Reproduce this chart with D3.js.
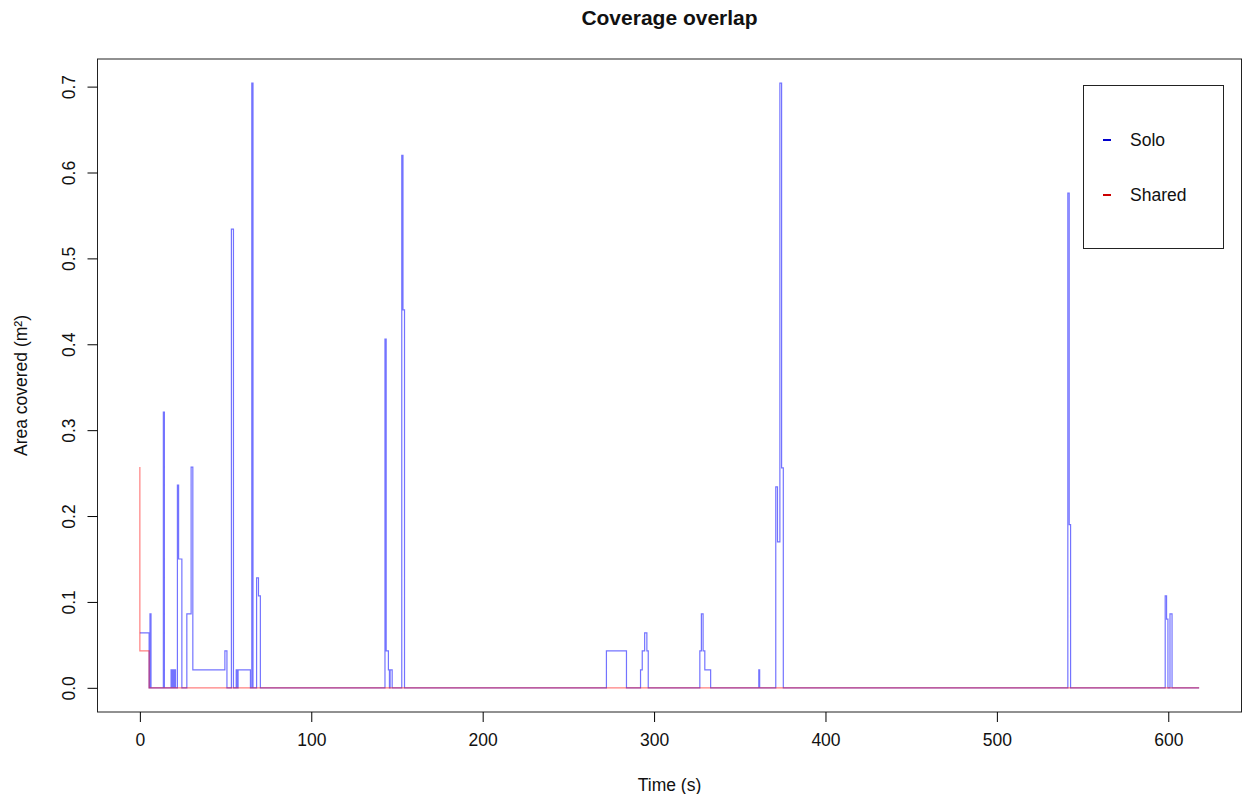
<!DOCTYPE html>
<html>
<head>
<meta charset="utf-8">
<script src="https://cdn.jsdelivr.net/npm/d3@7"></script>
<style>
  body { margin: 0; background: #fff; }
  text { font-family: "Liberation Sans", Arial, sans-serif; }
</style>
</head>
<body>
<div id="chart"></div>
<script>
// step data (time in s, area in m2), drawn step-after
var solo_t = [0, 5.4, 5.9, 6.5, 13.7, 14.3, 18.2, 18.7, 19.1, 19.6, 20.3, 20.8,
  21.9, 22.6, 24.5, 27.4, 29.9, 30.9, 49.6, 50.8, 53.4, 54.6, 56.2, 56.8, 57.3, 64.5,
  65.3, 66.0, 68.1, 69.2, 70.3, 143.0, 143.7, 145.0, 145.6, 146.0, 147.2,
  152.8, 153.5, 154.4, 272.2, 283.9, 292.1, 293.1, 294.5, 295.8, 296.6,
  326.7, 327.6, 328.6, 329.6, 333.0, 361.1, 361.6,
  371.0, 372.0, 373.4, 374.4, 375.4, 541.4, 542.2, 543.0,
  598.2, 599.0, 599.8, 601.0, 602.2, 618];
var solo_v = [0.064, 0, 0.086, 0, 0.321, 0, 0.021, 0, 0.021, 0, 0.021, 0,
  0.236, 0.15, 0, 0.086, 0.257, 0.021, 0.043, 0, 0.534, 0, 0.021, 0, 0.021, 0,
  0.704, 0, 0.128, 0.107, 0, 0.406, 0.043, 0.021, 0, 0.021, 0,
  0.62, 0.44, 0, 0.043, 0, 0.021, 0.043, 0.064, 0.043, 0,
  0.043, 0.086, 0.043, 0.021, 0, 0.021, 0,
  0.234, 0.17, 0.704, 0.256, 0, 0.576, 0.19, 0,
  0.107, 0.08, 0, 0.086, 0, 0];

var shared_t = [0, 0, 5.4, 618];
var shared_v = [0.257, 0.043, 0, 0];

var x_ticks = [0, 100, 200, 300, 400, 500, 600];
var y_ticks = [0, 0.1, 0.2, 0.3, 0.4, 0.5, 0.6, 0.7];
var legend_labels = ["Solo", "Shared"];

var width = 1243, height = 794;
var box = {left: 97.5, right: 1241.5, top: 59, bottom: 712};

var svg = d3.select("#chart").append("svg")
  .attr("width", width)
  .attr("height", height);

// R style 4% padding on both axes
var xmax = d3.max(solo_t), ymax = d3.max(solo_v);
var x = d3.scaleLinear()
  .domain([-0.04 * xmax, xmax * 1.04])
  .range([box.left, box.right]);
var y = d3.scaleLinear()
  .domain([-0.04 * ymax, ymax * 1.04])
  .range([box.bottom, box.top]);

var line = d3.line()
  .x(function(d) { return x(d[0]); })
  .y(function(d) { return y(d[1]); })
  .curve(d3.curveStepAfter);

var solo = solo_t.map(function(t, i) { return [t, solo_v[i]]; });
var shared = shared_t.map(function(t, i) { return [t, shared_v[i]]; });

svg.append("path")
  .datum(solo)
  .attr("d", line)
  .attr("fill", "none")
  .attr("stroke", "#0000ff")
  .attr("stroke-opacity", 0.55)
  .attr("stroke-width", 1.2);

svg.append("path")
  .datum(shared)
  .attr("d", line)
  .attr("fill", "none")
  .attr("stroke", "#ff0000")
  .attr("stroke-opacity", 0.5)
  .attr("stroke-width", 1.2);

// plot frame
svg.append("rect")
  .attr("x", box.left).attr("y", box.top)
  .attr("width", box.right - box.left)
  .attr("height", box.bottom - box.top)
  .attr("fill", "none")
  .attr("stroke", "#222")
  .attr("stroke-width", 1);

// axes
var xAxis = svg.append("g")
  .attr("transform", "translate(0," + box.bottom + ")")
  .call(d3.axisBottom(x).tickValues(x_ticks).tickSize(10).tickPadding(12)
    .tickFormat(d3.format("d")));
xAxis.select(".domain").remove();
xAxis.selectAll("text").attr("font-size", 17.5).attr("fill", "#111")
  .attr("font-family", "Liberation Sans, Arial, sans-serif");

var yAxis = svg.append("g")
  .attr("transform", "translate(" + box.left + ",0)")
  .call(d3.axisLeft(y).tickValues(y_ticks).tickSize(10).tickFormat(d3.format(".1f")));
yAxis.select(".domain").remove();
yAxis.selectAll("text")
  .attr("font-size", 17.5).attr("fill", "#111")
  .attr("font-family", "Liberation Sans, Arial, sans-serif")
  .attr("text-anchor", "middle")
  .attr("x", 0).attr("dy", 0)
  .attr("transform", "translate(-23,0) rotate(-90)");

// titles
svg.append("text")
  .attr("x", (box.left + box.right) / 2).attr("y", 25)
  .attr("text-anchor", "middle")
  .attr("font-size", 21).attr("font-weight", "bold").attr("fill", "#111")
  .text("Coverage overlap");

svg.append("text")
  .attr("x", (box.left + box.right) / 2).attr("y", 791)
  .attr("text-anchor", "middle")
  .attr("font-size", 17.5).attr("fill", "#111")
  .text("Time (s)");

svg.append("text")
  .attr("transform", "translate(27," + ((box.top + box.bottom) / 2) + ") rotate(-90)")
  .attr("text-anchor", "middle")
  .attr("font-size", 17.5).attr("fill", "#111")
  .text("Area covered (m²)");

// legend
var legend_colors = ["#0000cc", "#cc0000"];
svg.append("rect")
  .attr("x", 1083.5).attr("y", 85.5)
  .attr("width", 140).attr("height", 163)
  .attr("fill", "#fff").attr("stroke", "#222").attr("stroke-width", 1);

var lg = svg.selectAll(".lg").data(legend_labels).enter().append("g")
  .attr("transform", function(d, i) { return "translate(0," + (140 + i * 55) + ")"; });
lg.append("line")
  .attr("x1", 1103).attr("x2", 1111).attr("y1", 0).attr("y2", 0)
  .attr("stroke", function(d, i) { return legend_colors[i]; })
  .attr("stroke-width", 2);
lg.append("text")
  .attr("x", 1130).attr("y", 6)
  .attr("font-size", 17.5).attr("fill", "#111")
  .text(function(d) { return d; });
</script>
</body>
</html>
